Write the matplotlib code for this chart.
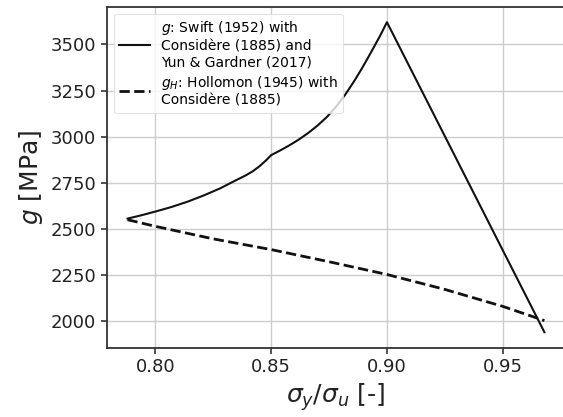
import matplotlib
matplotlib.use("Agg")
import matplotlib.pyplot as plt

# Swift (1952) with Considère (1885) and Yun & Gardner (2017)
ratio_swift = [0.788, 0.794, 0.80, 0.807, 0.814, 0.821, 0.828, 0.835, 0.839, 0.842, 0.845,
               0.848, 0.850, 0.854, 0.858, 0.862, 0.866, 0.870, 0.874, 0.878, 0.882, 0.886,
               0.889, 0.892, 0.895, 0.8975, 0.90, 0.968]
g_swift = [2556, 2574, 2594, 2619, 2648, 2682, 2720, 2765, 2790, 2812, 2840,
           2874, 2900, 2926, 2954, 2985, 3020, 3060, 3106, 3162, 3228, 3304,
           3366, 3432, 3500, 3558, 3621, 1940]

# Hollomon (1945) with Considère (1885)
ratio_holl = [0.788, 0.80, 0.825, 0.85, 0.875, 0.90, 0.925, 0.95, 0.968]
g_holl = [2550, 2514, 2446, 2388, 2322, 2253, 2172, 2080, 2003]

fig = plt.figure(figsize=(5.63, 4.17), dpi=100)
ax = fig.add_axes([0.1895, 0.1662, 1.004 - 0.1895, 0.984 - 0.1662])

ax.plot(ratio_swift, g_swift, color='#111111', lw=1.5,
        label='$g$: Swift (1952) with\nConsidère (1885) and\nYun & Gardner (2017)')
ax.plot(ratio_holl, g_holl, color='#111111', lw=2.0, ls='--',
        label='$g_H$: Hollomon (1945) with\nConsidère (1885)')

ax.set_xticks([0.80, 0.85, 0.90, 0.95])
ax.set_yticks([2000, 2250, 2500, 2750, 3000, 3250, 3500])
ax.tick_params(labelsize=13, length=4, width=1.2, color='#333333', labelcolor='#222222')
ax.grid(True, color='#cccccc', lw=1.0)
ax.set_axisbelow(True)
for s in ax.spines.values():
    s.set_color('#333333')
    s.set_linewidth(1.3)
ax.spines['right'].set_visible(False)

ax.set_xlabel(r'$\sigma_y/\sigma_u$ [-]', fontsize=18, color='#222222')
ax.set_ylabel(r'$g$ [MPa]', fontsize=18, color='#222222')

leg = ax.legend(loc='upper left', fontsize=10, handlelength=2.2, labelspacing=0.3,
                borderpad=0.4, framealpha=0.8, edgecolor='#dddddd')
leg.get_frame().set_linewidth(0.8)

fig.savefig('out.png', dpi=100)
